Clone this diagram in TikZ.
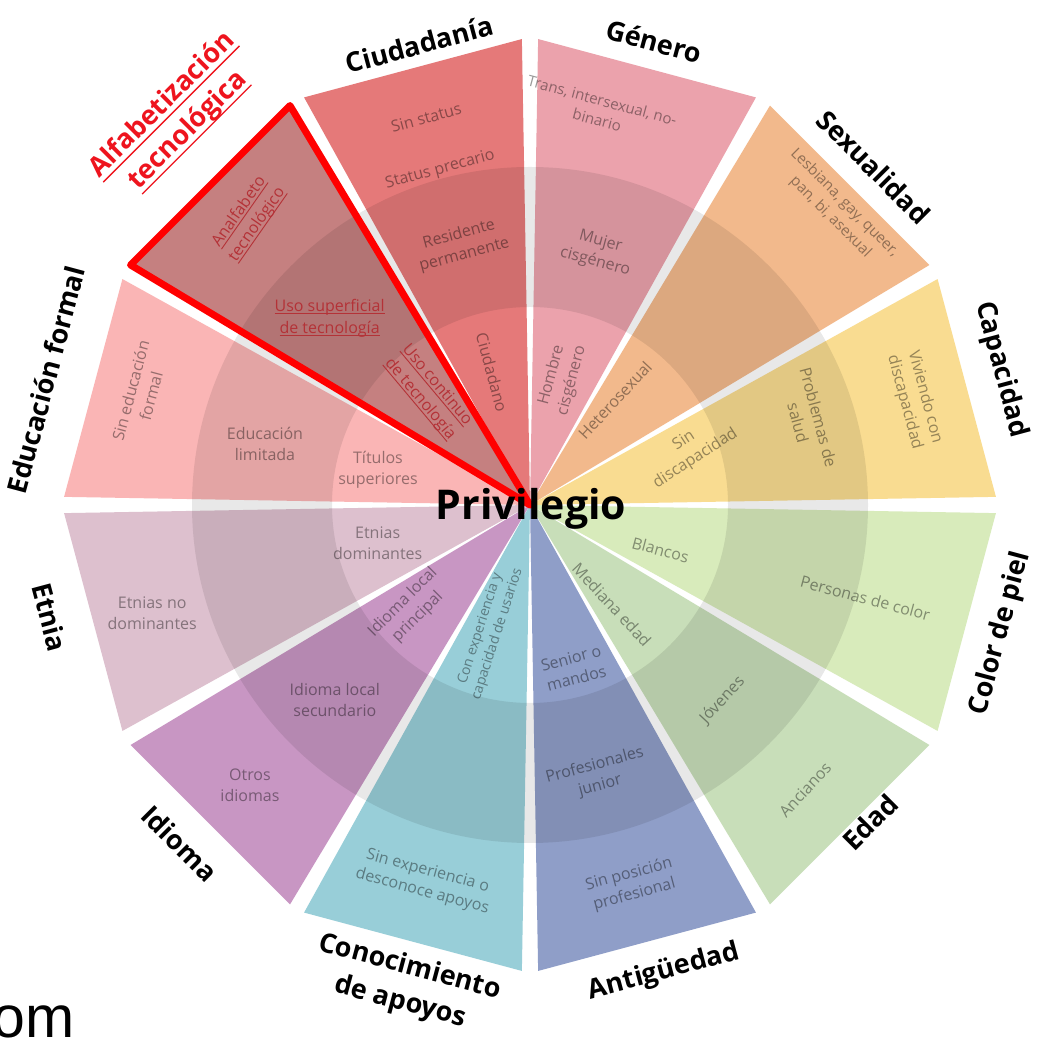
\documentclass[tikz,border=0pt]{standalone}
\usepackage{fontspec}
\setmainfont{Open Sans}
\newfontfamily\lsans{Liberation Sans}
\definecolor{cCap}{RGB}{249,220,145}
\definecolor{cSex}{RGB}{242,185,140}
\definecolor{cGen}{RGB}{235,162,172}
\definecolor{cCiu}{RGB}{229,121,121}
\definecolor{cAlf}{RGB}{197,128,128}
\definecolor{cEdu}{RGB}{250,181,181}
\definecolor{cEtn}{RGB}{221,192,206}
\definecolor{cIdi}{RGB}{200,150,195}
\definecolor{cCon}{RGB}{152,206,216}
\definecolor{cAnt}{RGB}{143,158,200}
\definecolor{cEda}{RGB}{200,222,185}
\definecolor{cPie}{RGB}{216,235,187}
\definecolor{dkred}{RGB}{180,50,55}
\definecolor{ttlred}{RGB}{238,20,30}
\newsavebox\ulbox
\newcommand{\ulx}[3]{\sbox\ulbox{#3}\rlap{\rule[-#1]{\wd\ulbox}{#2}}\usebox\ulbox}
\begin{document}
\begin{tikzpicture}[x=1pt,y=1pt,
  lbl/.style={font=\fontsize{16}{21}\selectfont, align=center, text=black, text opacity=0.40, inner sep=1pt},
  smlbl/.style={lbl, font=\fontsize{14}{18}\selectfont},
  redlbl/.style={font=\fontsize{16}{22}\selectfont, align=center, text=dkred, inner sep=1pt},
  ttl/.style={font=\fontsize{27}{36}\selectfont\bfseries, align=center, text=black, inner sep=1pt}]
\useasboundingbox (0,0) rectangle (1037,1041);
\fill[white] (0,0) rectangle (1037,1041);
\begin{scope}[shift={(530,536)}]
% wedges
\foreach \a/\c in {0/cCap,30/cSex,60/cGen,90/cCiu,120/cAlf,150/cEdu,180/cEtn,210/cIdi,240/cCon,270/cAnt,300/cEda,330/cPie}
  \fill[\c] (0,0) -- (\a+1:466) -- (\a+29:466) -- cycle;
% darker band
\fill[black, fill opacity=0.09, even odd rule] (0,0) circle[radius=338] (0,0) circle[radius=198];
% highlighted wedge
\draw[red, line width=7pt, line join=round] (0,0) -- (121:466) -- (149:466) -- cycle;

% outer titles
\node[ttl, rotate=15] (tciu) at (103.5:474) {Ciudadanía};
\node[ttl, rotate=-15] (tgen) at (75:480) {Género};
\node[ttl, rotate=-45] (tsex) at (44.5:482) {Sexualidad};
\node[ttl, rotate=-75] (tcap) at (16:490) {Capacidad};
\node[ttl, rotate=75] (tpie) at (-15.3:488) {Color de piel};
\node[ttl, rotate=45] (teda) at (-43:465) {Edad};
\node[ttl, rotate=15] (tant) at (-74:486) {Antigüedad};
\node[ttl, rotate=-15] (tcon) at (-104.6:496) {Conocimiento\\de apoyos};
\node[ttl, rotate=-45] (tidi) at (-136:487) {Idioma};
\node[ttl, rotate=-75] (tetn) at (-166.8:493) {Etnia};
\node[ttl, rotate=75] (tedu) at (165.5:500) {Educación formal};
\node[ttl, rotate=45, text=ttlred] (talf) at (132.5:525)
  {\ulx{6pt}{1.3pt}{Alfabetización}\\\ulx{6pt}{1.3pt}{tecnológica}};

% Ciudadania
\node[lbl, rotate=15] (ciu1) at (105:401) {Sin status};
\node[lbl, rotate=15] (ciu2) at (105:347) {Status precario};
\node[lbl, rotate=15] (ciu3) at (104.7:269) {Residente\\permanente};
\node[lbl, rotate=-75] (ciu4) at (106:138) {Ciudadano};
% Genero
\node[lbl, rotate=-15, font=\fontsize{15}{20}\selectfont] (gen1) at (80:401) {Trans, intersexual, no-\\binario};
\node[lbl, rotate=-15] (gen2) at (75:262) {Mujer\\cisgénero};
\node[lbl, rotate=75] (gen3) at (76:131) {Hombre\\cisgénero};
% Sexualidad
\node[lbl, rotate=-45, font=\fontsize{15}{20}\selectfont] (sex1) at (43.8:426) {Lesbiana, gay, queer,\\pan, bi, asexual};
\node[lbl, rotate=47] (sex2) at (51:135) {Heterosexual};
% Capacidad
\node[lbl, rotate=-75] (cap1) at (15.3:399) {Viviendo con\\discapacidad};
\node[lbl, rotate=-75] (cap2) at (17:291) {Problemas de\\salud};
\node[lbl, rotate=33] (cap3) at (19:169) {Sin\\discapacidad};
% Color de piel
\node[lbl, rotate=-15] (pie1) at (-19:138) {Blancos};
\node[lbl, rotate=-15] (pie2) at (-15.5:348) {Personas de color};
% Edad
\node[lbl, rotate=-47] (eda1) at (-50.6:129) {Mediana edad};
\node[lbl, rotate=47] (eda2) at (-45.4:274) {Jóvenes};
\node[lbl, rotate=47] (eda3) at (-46:396) {Ancianos};
% Antiguedad
\node[lbl, rotate=15] (ant1) at (-75:169) {Senior o\\mandos};
\node[lbl, rotate=15] (ant2) at (-76:279) {Profesionales\\junior};
\node[lbl, rotate=15] (ant3) at (-75:393) {Sin posición\\profesional};
% Conocimiento
\node[smlbl, rotate=72] (con1) at (-108:133) {Con experiencia y\\capacidad de usarios};
\node[lbl, rotate=-15] (con2) at (-105.6:391) {Sin experiencia o\\desconoce apoyos};
% Idioma
\node[lbl, rotate=45] (idi1) at (-138.8:159) {Idioma local\\principal};
\node[lbl] (idi2) at (-135:276) {Idioma local\\secundario};
\node[lbl] (idi3) at (-135:396) {Otros\\idiomas};
% Etnia
\node[lbl] (etn1) at (-166:157) {Etnias\\dominantes};
\node[lbl] (etn2) at (-164:393) {Etnias no\\dominantes};
% Educacion formal
\node[lbl, rotate=75] (edu1) at (164:405) {Sin educación\\formal};
\node[lbl] (edu2) at (167:272) {Educación\\limitada};
\node[lbl] (edu3) at (167:156) {Títulos\\superiores};
% Alfabetizacion
\node[redlbl, rotate=55] (alf1) at (134.5:402) {\ulx{3pt}{0.9pt}{Analfabeto}\\\ulx{3pt}{0.9pt}{tecnológico}};
\node[redlbl] (alf2) at (137:274) {\ulx{3pt}{0.9pt}{Uso superficial}\\\ulx{3pt}{0.9pt}{de tecnología}};
\node[redlbl, rotate=-50] (alf3) at (132:152) {\ulx{3pt}{0.9pt}{Uso continuo}\\\ulx{3pt}{0.9pt}{de tecnología}};

% centre
\node[font=\fontsize{41}{41}\selectfont\bfseries, anchor=base, inner sep=0] (priv) at (1,-15) {Privilegio};
\end{scope}
\node[font=\lsans\fontsize{59}{59}\selectfont, anchor=base east, inner sep=0] (om) at (75,3) {om};
\end{tikzpicture}
\end{document}
